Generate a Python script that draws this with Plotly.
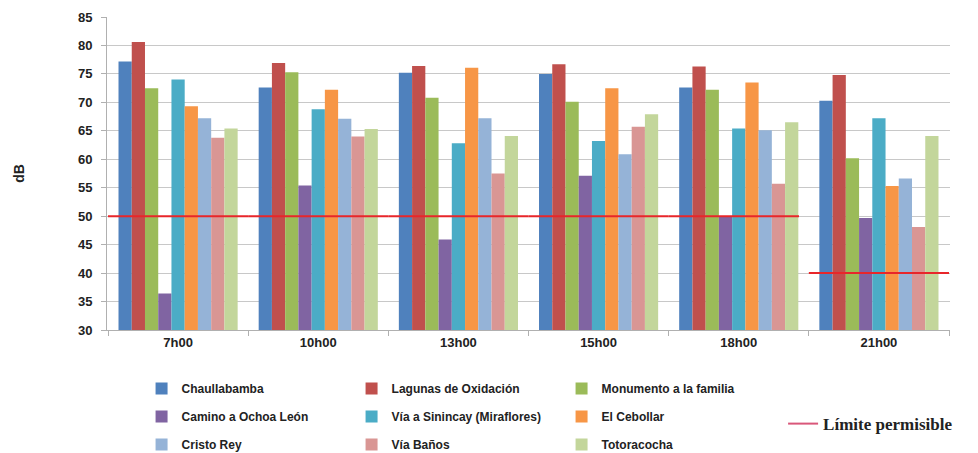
import plotly.graph_objects as go

periods = ["7h00", "10h00", "13h00", "15h00", "18h00", "21h00"]
sites = ["Chaullabamba", "Lagunas de Oxidación", "Monumento a la familia",
         "Camino a Ochoa León", "Vía a Sinincay (Miraflores)", "El Cebollar",
         "Cristo Rey", "Vía Baños", "Totoracocha"]

chaullabamba = [77.2, 72.6, 75.2, 75.0, 72.6, 70.3]
lagunas = [80.6, 76.9, 76.4, 76.7, 76.3, 74.8]
monumento = [72.5, 75.3, 70.8, 70.1, 72.2, 60.2]
camino = [36.4, 55.4, 45.9, 57.1, 50.0, 49.7]
sinincay = [74.0, 68.8, 62.8, 63.2, 65.4, 67.2]
cebollar = [69.3, 72.2, 76.1, 72.5, 73.5, 55.3]
cristo = [67.2, 67.1, 67.2, 60.9, 65.1, 56.6]
banos = [63.8, 64.0, 57.5, 65.7, 55.7, 48.1]
totoracocha = [65.4, 65.3, 64.1, 67.9, 66.5, 64.1]
limite = [50, 50, 50, 50, 50, 40]

series = [chaullabamba, lagunas, monumento, camino, sinincay, cebollar,
          cristo, banos, totoracocha]
colors = ["#4F81BD", "#C0504D", "#9BBB59", "#8064A2", "#4BACC6", "#F79646",
          "#95B3D7", "#D99694", "#C3D69B"]
legend_rows = ["legend", "legend", "legend", "legend3", "legend3", "legend3",
               "legend4", "legend4", "legend4"]

fig = go.Figure()
for name, vals, col, lg in zip(sites, series, colors, legend_rows):
    fig.add_trace(go.Bar(x=periods, y=vals, name=name, marker_color=col,
                         marker_line_width=0, legend=lg))

# limit line segments per period
for i, v in enumerate(limite):
    x0 = i - 0.5
    x1 = i + 0.5
    if i + 1 < len(limite) and limite[i + 1] != v:
        x1 = i + 0.43
    fig.add_shape(type="line", xref="x", yref="y", x0=x0, x1=x1, y0=v, y1=v,
                  line=dict(color="#E8262A", width=2), layer="above")

fig.add_trace(go.Scatter(x=[None], y=[None], mode="lines", name="Límite permisible",
                         line=dict(color="#D9577A", width=2), legend="legend2"))

leg_font = dict(family="Liberation Sans", size=12, color="#222222", weight="bold")
leg_common = dict(orientation="h", x=0.041, xanchor="left", yanchor="top",
                  entrywidth=165, entrywidthmode="pixels", traceorder="normal",
                  font=leg_font, itemwidth=30, bgcolor="rgba(0,0,0,0)")

# page body adds an 8px offset, so the figure is 8px smaller and margins shifted
fig.update_layout(
    width=970, height=445,
    margin=dict(l=99, r=28, t=9, b=123, autoexpand=False),
    paper_bgcolor="white", plot_bgcolor="white",
    barmode="group", bargap=0.15, bargroupgap=0,
    font=dict(family="Liberation Sans", size=12, color="#222222"),
    showlegend=True,
    legend=dict(y=-0.1406, **leg_common),
    legend3=dict(y=-0.230, **leg_common),
    legend4=dict(y=-0.3195, **leg_common),
    legend2=dict(orientation="h", x=0.802, y=-0.243, xanchor="left", yanchor="top",
                 bgcolor="rgba(0,0,0,0)",
                 font=dict(family="Liberation Serif", size=17, color="#222222", weight="bold")),
    yaxis=dict(range=[30, 85], dtick=5, showgrid=True, gridcolor="#C8C8C8", gridwidth=1,
               showline=True, linecolor="#B0B0B0", ticks="outside", ticklen=5,
               tickcolor="#B0B0B0", ticklabelstandoff=6, automargin=False,
               tickfont=dict(family="Liberation Sans", size=13, color="#222222", weight="bold"),
               title=dict(text="dB", standoff=50,
                          font=dict(family="Liberation Sans", size=14, color="#222222", weight="bold"))),
    xaxis=dict(showline=True, linecolor="#B0B0B0", ticks="outside", tickson="boundaries",
               ticklen=5, tickcolor="#B0B0B0", automargin=False,
               tickfont=dict(family="Liberation Sans", size=13, color="#222222", weight="bold")),
)

fig.write_html("out.html")
